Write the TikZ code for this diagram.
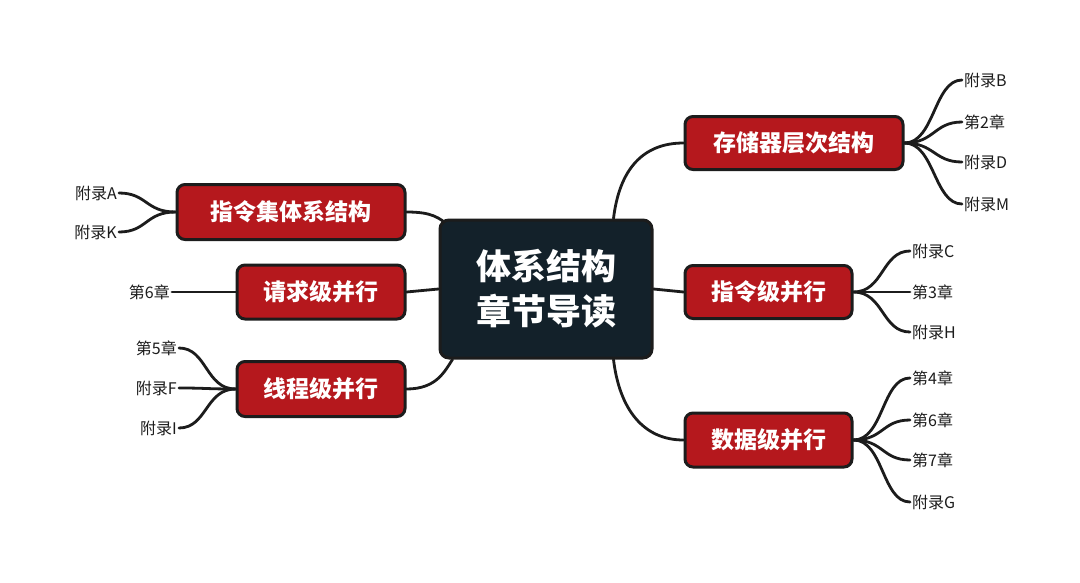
\documentclass[tikz,border=0pt]{standalone}
\usepackage{fontspec}
\setmainfont{Liberation Sans}
\newfontfamily\cjk{Noto Sans CJK SC}
\usetikzlibrary{backgrounds}
\definecolor{boxred}{HTML}{B5181D}
\definecolor{boxdark}{HTML}{13212A}
\definecolor{ink}{HTML}{1C1C1C}
\tikzset{
  redbox/.style={draw=ink, line width=3pt, fill=boxred, rounded corners=8pt,
    text=white, font=\cjk\bfseries\fontsize{23}{26}\selectfont, inner sep=0pt},
  darkbox/.style={draw=ink, line width=3pt, fill=boxdark, rounded corners=9pt,
    text=white, font=\cjk\bfseries\fontsize{35}{45}\selectfont, align=center, inner sep=0pt},
  leafr/.style={anchor=west, inner sep=2pt, text=ink, font=\cjk\fontsize{16}{18}\selectfont},
  leafl/.style={anchor=east, inner sep=2pt, text=ink, font=\cjk\fontsize{16}{18}\selectfont},
  link/.style={draw=ink, line width=2.8pt, line cap=round},
}
\begin{document}
\begin{tikzpicture}[x=1pt, y=-1pt]
\useasboundingbox (0,0) rectangle (1080,582);

% central node
\node[darkbox, minimum width=212pt, minimum height=138pt] (c) at (546,289) {体系结构\\章节导读};

% right branches
\node[redbox, minimum width=218pt, minimum height=53pt] (s1) at (794,143) {存储器层次结构};
\node[redbox, minimum width=167pt, minimum height=53pt] (s2) at (768.5,292) {指令级并行};
\node[redbox, minimum width=167pt, minimum height=54pt] (s3) at (768.5,440) {数据级并行};

% left branches
\node[redbox, minimum width=228pt, minimum height=55pt] (l1) at (291,212) {指令集体系结构};
\node[redbox, minimum width=168pt, minimum height=54pt] (l2) at (321,292) {请求级并行};
\node[redbox, minimum width=168pt, minimum height=55pt] (l3) at (321,389) {线程级并行};

% leaves right
\node[leafr] (b1) at (962,80) {附录B};
\node[leafr] (b2) at (962,122) {第2章};
\node[leafr] (b3) at (962,162) {附录D};
\node[leafr] (b4) at (962,204) {附录M};
\node[leafr] (c1) at (910,251) {附录C};
\node[leafr] (c2) at (910,292) {第3章};
\node[leafr] (c3) at (910,332) {附录H};
\node[leafr] (d1) at (910,378) {第4章};
\node[leafr] (d2) at (910,420) {第6章};
\node[leafr] (d3) at (910,460) {第7章};
\node[leafr] (d4) at (910,502) {附录G};

% leaves left
\node[leafl] (a1) at (119,193) {附录A};
\node[leafl] (a2) at (119,232) {附录K};
\node[leafl] (r1) at (172,292) {第6章};
\node[leafl] (t1) at (179,348) {第5章};
\node[leafl] (t2) at (179,388) {附录F};
\node[leafl] (t3) at (179,428) {附录I};

\begin{scope}[on background layer]
\fill[white] (0,0) rectangle (1080,582);
% central to branches
\draw[link] ([xshift=-40pt]c.north east) .. controls +(6,-50) and +(-40,0) .. (s1.west);
\draw[link] (c.east) -- (s2.west);
\draw[link] ([xshift=-40pt]c.south east) .. controls +(6,50) and +(-40,0) .. (s3.west);
\draw[link] (l1.east) .. controls +(25,0) and +(-12,-10) .. ([xshift=12pt,yshift=62pt]c.west);
\draw[link] (l2.east) -- (c.west);
\draw[link] (l3.east) .. controls +(30,0) and +(-8,12) .. ([xshift=14pt]c.south west);

% right leaves
\foreach \n in {b1,b2,b3,b4}
  \draw[link] (s1.east) .. controls +(30,0) and +(-28,0) .. (\n.west);
\foreach \n in {c1,c2,c3}
  \draw[link] (s2.east) .. controls +(30,0) and +(-28,0) .. (\n.west);
\foreach \n in {d1,d2,d3,d4}
  \draw[link] (s3.east) .. controls +(30,0) and +(-28,0) .. (\n.west);

% left leaves
\foreach \n in {a1,a2}
  \draw[link] (l1.west) .. controls +(-30,0) and +(28,0) .. (\n.east);
\draw[link] (l2.west) -- (r1.east);
\foreach \n in {t1,t2,t3}
  \draw[link] (l3.west) .. controls +(-30,0) and +(28,0) .. (\n.east);
\end{scope}
\end{tikzpicture}
\end{document}
